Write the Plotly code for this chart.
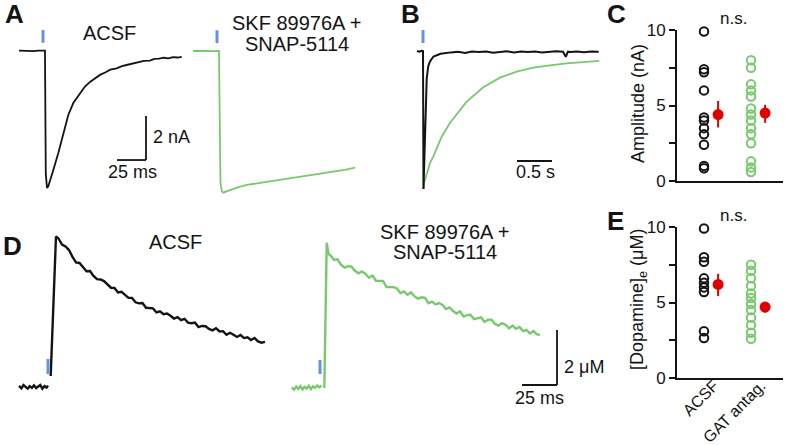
import plotly.graph_objects as go

W, H = 785, 445
FONT = "Liberation Sans, Arial, Helvetica, sans-serif"
BLACK = "#141414"
GREEN = "#78c96d"
BLUE = "#6c8ee6"
RED = "#e00000"

# ---------------- DATA ----------------
# Panel A: evoked current (nA) vs time (ms); t = 0 at stimulus
a_acsf_t = [-20.7, -16, -12, -8, -4, 0, 1.7, 2.4, 3.45, 4.6, 6.0, 8.9, 13.2, 17.5, 21.8, 26.1, 31.9,
            36, 40.5, 45, 49.1, 54, 58, 63.5, 68, 72, 77.6, 82, 87, 92.2, 96, 100, 104, 108, 112, 116, 119.6]
a_acsf_i = [0.0, -0.01, 0.01, -0.02, 0.0, 0.0, 0.0, -5.6, -6.24, -6.15, -5.88, -5.42, -4.65, -3.74, -2.92, -2.38, -1.92,
            -1.64, -1.42, -1.25, -1.10, -0.98, -0.86, -0.80, -0.70, -0.65, -0.58, -0.54, -0.46, -0.45, -0.37, -0.36,
            -0.32, -0.35, -0.29, -0.31, -0.28]
a_gat_t = [-20.7, -16, -12, -8, -4, 0, 1.7, 3.0, 4.2, 5.4, 8, 11.2, 18, 25.6, 40, 54.3, 68, 82.8, 100, 110, 119]
a_gat_i = [0.0, 0.01, -0.01, 0.01, -0.01, 0.0, 0.0, -6.0, -6.38, -6.44, -6.40, -6.32, -6.20, -6.09, -5.97, -5.86,
           -5.75, -5.64, -5.48, -5.40, -5.30]

# Panel B: normalised current vs time (s)
b_acsf_t = [-0.086, -0.05, -0.02, 0.0, 0.007, 0.02, 0.03, 0.04, 0.053, 0.075, 0.1, 0.15, 0.25, 0.4,
            0.5, 0.6, 0.7, 0.8, 0.9, 1.0, 1.1, 1.2, 1.3, 1.4, 1.5, 1.6, 1.7, 1.8, 1.9, 2.0, 2.04, 2.07,
            2.1, 2.2, 2.3, 2.4, 2.51]
b_acsf_y = [0.0, -0.005, 0.002, 0.0, -1.0, -0.80, -0.55, -0.35, -0.20, -0.11, -0.075, -0.04, -0.02, -0.01,
            -0.006, -0.014, -0.004, -0.008, -0.003, -0.012, -0.005, -0.002, -0.010, -0.004, -0.007, -0.003,
            -0.011, -0.005, -0.002, -0.006, -0.042, -0.005, -0.008, -0.003, -0.009, -0.004, -0.006]
b_gat_t = [0.007, 0.014, 0.071, 0.1, 0.147, 0.2, 0.267, 0.386, 0.624, 0.861, 1.1, 1.339, 1.576, 1.814,
           2.053, 2.29, 2.519]
b_gat_y = [-1.0, -0.954, -0.862, -0.81, -0.766, -0.70, -0.621, -0.520, -0.367, -0.263, -0.193, -0.150,
           -0.121, -0.104, -0.089, -0.080, -0.072]

# Panel D: [dopamine] (uM) vs time (ms); None = gap around the stimulus
d_acsf_t = [-20.7, -19, -17.5, -16, -14.5, -13, -11.5, -10, -8.5, -7, -5.5, -4, -2.5, -1, 0, None, 1.93,
            5.7, 7.5, 10, 12.5, 15, 17.5, 20, 22.5, 25, 27.5, 30, 32.5, 35, 37.5, 40, 42.5, 45, 47.5, 50,
            52.5, 55, 57.5, 60, 62.5, 65, 67.5, 70, 72.5, 75, 77.5, 80, 82.5, 85, 87.5, 90, 92.5, 95, 97.5,
            100, 102.5, 105, 107.5, 110, 112.5, 115, 117.5, 120, 122.5, 125, 127.5, 130, 132.5, 135, 137.5,
            140, 142.5, 145, 147.5, 150, 152.5, 155]
d_acsf_c = [0.04, -0.05, 0.07, 0.01, -0.06, 0.03, -0.03, 0.06, -0.04, 0.02, 0.07, -0.06, 0.03, -0.02, 0.05,
            None, 0.4,
            5.47, 5.40, 5.18, 5.11, 4.98, 4.73, 4.53, 4.51, 4.37, 4.21, 4.22, 4.04, 3.92, 3.91, 3.85, 3.71,
            3.61, 3.60, 3.44, 3.46, 3.36, 3.24, 3.24, 3.08, 3.04, 3.05, 2.88, 2.88, 2.86, 2.71, 2.75, 2.65,
            2.67, 2.59, 2.49, 2.54, 2.43, 2.48, 2.34, 2.32, 2.34, 2.18, 2.22, 2.21, 2.11, 2.06, 2.14, 2.02,
            2.03, 1.90, 1.97, 1.90, 1.82, 1.89, 1.78, 1.81, 1.71, 1.78, 1.66, 1.61, 1.64]
d_gat_t = [-20.2, -18.5, -17, -15.5, -14, -12.5, -11, -9.5, -8, -6.5, -5, -3.5, -2, -0.5, 1.2, None,
           3.1, 4.3, 4.8, 6.0, 7.5, 10, 12.5, 15, 17.5, 20, 22.5, 25, 27.5, 30, 32.5, 35, 37.5, 40, 42.5,
           45, 47.5, 50, 52.5, 55, 57.5, 60, 62.5, 65, 67.5, 70, 72.5, 75, 77.5, 80, 82.5, 85, 87.5, 90,
           92.5, 95, 97.5, 100, 102.5, 105, 107.5, 110, 112.5, 115, 117.5, 120, 122.5, 125, 127.5, 130,
           132.5, 135, 137.5, 140, 142.5, 145, 147.5, 150, 152.5, 155, 157.1]
d_gat_c = [0.02, -0.06, 0.05, -0.03, 0.07, -0.05, 0.04, -0.02, 0.08, -0.04, 0.06, 0.01, 0.09, 0.03, 0.08,
           None, 0.0, 5.1, 5.28, 4.88,
           4.82, 4.66, 4.68, 4.48, 4.38, 4.43, 4.41, 4.26, 4.17, 4.24, 4.15, 4.01, 4.09, 3.90, 3.89, 3.89,
           3.67, 3.66, 3.67, 3.62, 3.45, 3.51, 3.39, 3.48, 3.33, 3.25, 3.30, 3.28, 3.08, 3.14, 3.04, 3.09,
           3.02, 2.87, 2.93, 2.80, 2.71, 2.79, 2.60, 2.65, 2.66, 2.50, 2.54, 2.57, 2.40, 2.48, 2.48, 2.33,
           2.27, 2.36, 2.30, 2.17, 2.27, 2.15, 2.22, 2.07, 2.11, 1.98, 2.07, 1.95, 1.93]

# Panels C / E: group data
groups = ["ACSF", "GAT antag."]
group_x = [1, 2]
c_acsf = [9.9, 7.4, 7.2, 6.0, 4.2, 4.0, 3.5, 3.1, 2.4, 1.0, 0.85]
c_gat = [8.0, 7.5, 6.4, 6.0, 5.6, 4.8, 4.4, 4.0, 3.5, 3.1, 2.5, 1.3, 0.9, 0.6]
c_mean = [4.4, 4.5]
c_err_plus = [0.9, 0.55]
c_err_minus = [0.85, 0.65]
e_acsf = [9.9, 8.0, 7.7, 6.6, 6.3, 6.0, 5.7, 3.1, 2.65]
e_gat = [7.5, 7.1, 6.6, 6.1, 5.6, 5.3, 4.9, 4.5, 4.0, 3.5, 3.0, 2.6]
e_mean = [6.2, 4.7]
e_err_plus = [0.7, 0.33]
e_err_minus = [0.78, 0.38]
mean_offset = 0.3

# stimulus markers (data units of each panel) and scale bars
stim_t = 0
stim_a = (0.36, 0.94)
stim_b = (0.058, 0.152)
stim_d1 = (0.47, 1.02)
stim_d2 = (0.51, 1.02)
sb_a = dict(t_end=88.8, y_bot=-4.97, dt=25, dy=2)
sb_b = dict(t_end=1.843, y_bot=-0.797, dt=0.5)
sb_d = dict(t_end=169.3, y_bot=0.11, dt=25, dy=2)

# ---------------- LAYOUT HELPERS ----------------
def ax_name(n, letter):
    return letter if n == 1 else f"{letter}{n}"

def px(x):
    return x / W

def py(y):
    return 1 - y / H

layout_axes = {}

def trace_axes(n, box, cal):
    x0, x1, y0, y1 = box
    ox, sx, oy, sy = cal
    layout_axes["xaxis" if n == 1 else f"xaxis{n}"] = dict(
        domain=[x0 / W, x1 / W], range=[(x0 - ox) / sx, (x1 - ox) / sx],
        visible=False, anchor=ax_name(n, "y"), fixedrange=True, automargin=False)
    layout_axes["yaxis" if n == 1 else f"yaxis{n}"] = dict(
        domain=[1 - y1 / H, 1 - y0 / H], range=[(oy - y1) / sy, (oy - y0) / sy],
        visible=False, anchor=ax_name(n, "x"), fixedrange=True, automargin=False)

trace_axes(1, (8, 200, 18, 200), (43, 1.16, 50.7, 22))
trace_axes(2, (185, 372, 18, 200), (217, 1.16, 51, 22))
trace_axes(3, (405, 605, 18, 200), (423, 70, 51, 138))
trace_axes(4, (8, 285, 225, 400), (48, 1.4, 387, 27.5))
trace_axes(5, (285, 612, 225, 410), (320, 1.4, 388, 27.5))

def stat_axes(n, y0, y1, labels):
    layout_axes[f"xaxis{n}"] = dict(
        domain=[677 / W, 783 / W], range=[0.426, 2.68], anchor=f"y{n}",
        showline=True, linecolor=BLACK, linewidth=2, ticks="", showgrid=False, zeroline=False,
        tickmode="array", tickvals=group_x, ticktext=groups, showticklabels=labels, tickangle=-45,
        ticklabelshift=10, ticklabelstandoff=-10,
        tickfont=dict(size=16, color=BLACK, family=FONT), fixedrange=True, automargin=False)
    layout_axes[f"yaxis{n}"] = dict(
        domain=[1 - y1 / H, 1 - y0 / H], range=[0, 10], anchor=f"x{n}",
        showline=True, linecolor=BLACK, linewidth=2, ticks="outside", ticklen=6, tickwidth=2,
        tickcolor=BLACK, showgrid=False, zeroline=False, tickmode="linear", tick0=0, dtick=5,
        minor=dict(tick0=0, dtick=2.5, ticks="outside", ticklen=6, tickwidth=2, tickcolor=BLACK,
                   showgrid=False),
        tickfont=dict(size=17, color=BLACK, family=FONT), fixedrange=True, automargin=False)

stat_axes(6, 30, 181, False)
stat_axes(7, 227, 378, True)

# ---------------- FIGURE ----------------
fig = go.Figure()

def line(n, x, y, color, width=2):
    fig.add_trace(go.Scatter(x=x, y=y, mode="lines", line=dict(color=color, width=width),
                             xaxis=ax_name(n, "x"), yaxis=ax_name(n, "y"), hoverinfo="skip"))

line(1, a_acsf_t, a_acsf_i, BLACK, 1.8)
line(2, a_gat_t, a_gat_i, GREEN, 1.8)
line(3, b_gat_t, b_gat_y, GREEN, 1.8)
line(3, b_acsf_t, b_acsf_y, BLACK, 2)
line(4, d_acsf_t, d_acsf_c, BLACK, 2.4)
line(5, d_gat_t, d_gat_c, GREEN, 2.4)

def scatter_panel(n, acsf, gat, mean, ep, em):
    xa, ya = f"x{n}", f"y{n}"
    fig.add_trace(go.Scatter(x=[group_x[0]] * len(acsf), y=acsf, mode="markers", xaxis=xa, yaxis=ya,
                             marker=dict(symbol="circle-open", size=8.5, color=BLACK, line=dict(width=2)),
                             cliponaxis=False, hoverinfo="skip"))
    fig.add_trace(go.Scatter(x=[group_x[1]] * len(gat), y=gat, mode="markers", xaxis=xa, yaxis=ya,
                             marker=dict(symbol="circle-open", size=8.5, color=GREEN, line=dict(width=2)),
                             cliponaxis=False, hoverinfo="skip"))
    fig.add_trace(go.Scatter(x=[g + mean_offset for g in group_x], y=mean, mode="markers",
                             xaxis=xa, yaxis=ya,
                             marker=dict(symbol="circle", size=11, color=RED),
                             error_y=dict(type="data", symmetric=False, array=ep, arrayminus=em,
                                          color=RED, thickness=2, width=0),
                             cliponaxis=False, hoverinfo="skip"))

scatter_panel(6, c_acsf, c_gat, c_mean, c_err_plus, c_err_minus)
scatter_panel(7, e_acsf, e_gat, e_mean, e_err_plus, e_err_minus)

shapes = []

def seg(n, x0, y0, x1, y1, color, width):
    shapes.append(dict(type="line", xref=ax_name(n, "x"), yref=ax_name(n, "y"),
                       x0=x0, y0=y0, x1=x1, y1=y1, line=dict(color=color, width=width)))

# stimulus bars
seg(1, stim_t, stim_a[0], stim_t, stim_a[1], BLUE, 3)
seg(2, stim_t, stim_a[0], stim_t, stim_a[1], BLUE, 3)
seg(3, stim_t, stim_b[0], stim_t, stim_b[1], BLUE, 3)
seg(4, stim_t, stim_d1[0], stim_t, stim_d1[1], BLUE, 3)
seg(5, stim_t, stim_d2[0], stim_t, stim_d2[1], BLUE, 3)
# scale bars
seg(1, sb_a["t_end"], sb_a["y_bot"], sb_a["t_end"], sb_a["y_bot"] + sb_a["dy"], BLACK, 1.8)
seg(1, sb_a["t_end"] - sb_a["dt"], sb_a["y_bot"], sb_a["t_end"], sb_a["y_bot"], BLACK, 1.8)
seg(3, sb_b["t_end"] - sb_b["dt"], sb_b["y_bot"], sb_b["t_end"], sb_b["y_bot"], BLACK, 1.8)
seg(5, sb_d["t_end"], sb_d["y_bot"], sb_d["t_end"], sb_d["y_bot"] + sb_d["dy"], BLACK, 1.8)
seg(5, sb_d["t_end"] - sb_d["dt"], sb_d["y_bot"], sb_d["t_end"], sb_d["y_bot"], BLACK, 1.8)

annotations = []

def text(s, x, y, size=18, xanchor="center", angle=0, bold=False):
    annotations.append(dict(text=f"<b>{s}</b>" if bold else s, x=px(x), y=py(y), xref="paper",
                            yref="paper", showarrow=False, xanchor=xanchor, yanchor="middle",
                            textangle=angle, font=dict(size=size, color=BLACK, family=FONT)))

for letter, x, y in [("A", 3, 14), ("B", 399, 14), ("C", 605, 14), ("D", 1, 246), ("E", 605, 221)]:
    text(letter, x, y, size=26, xanchor="left", bold=True)

text("ACSF", 109, 33, 20)
text("SKF 89976A +", 297, 23, 20)
text("SNAP-5114", 297, 44, 20)
text("2 nA", 151, 137, 18, xanchor="left")
text("25 ms", 132, 172.5, 18)
text("0.5 s", 535, 172.5, 18)
text("n.s.", 733, 18, 17)
text("n.s.", 733, 215, 17)
text("Amplitude (nA)", 638, 104, 18, angle=-90)
text("[Dopamine]<sub>e</sub> (μM)", 638, 300, 18, angle=-90)
text("ACSF", 175, 242, 20)
text("SKF 89976A +", 445, 232, 20)
text("SNAP-5114", 445, 252, 20)
text("2 μM", 562, 367, 18, xanchor="left")
text("25 ms", 539, 398, 18)

fig.update_layout(
    width=W, height=H, margin=dict(l=0, r=0, t=0, b=0, pad=0),
    paper_bgcolor="white", plot_bgcolor="rgba(0,0,0,0)",
    showlegend=False, shapes=shapes, annotations=annotations,
    font=dict(family=FONT, color=BLACK),
    **layout_axes,
)

fig.write_html("out.html", config={"displayModeBar": False},
               post_script="document.body.style.margin='0';document.body.style.overflow='hidden';")
